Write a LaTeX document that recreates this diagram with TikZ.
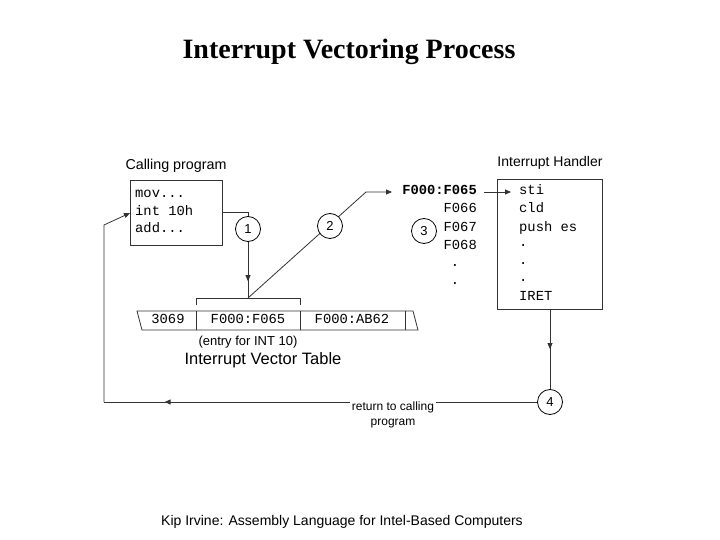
\documentclass[tikz,border=0pt]{standalone}
\usepackage{fontspec}
\setmainfont{Liberation Serif}
\newfontfamily\sansf{Liberation Sans}
\newfontfamily\monof{Liberation Mono}
\usetikzlibrary{arrows.meta,decorations.markings}
\begin{document}
\begin{tikzpicture}[x=1pt,y=-1pt,
  ln/.style={line width=0.8pt,draw=black!80},
  circ/.style={circle,draw=black,line width=0.8pt,minimum size=25pt,inner sep=0pt,font=\sansf\fontsize{13}{13}\selectfont},
  mono/.style={font=\monof\fontsize{13.8}{14}\selectfont,inner sep=0pt,text height=8pt,text depth=2pt},
  sans/.style={font=\sansf\fontsize{12}{13}\selectfont,inner sep=0pt},
  tip/.style={-{Triangle[length=6pt,width=5pt]}},
  midarrow/.style={postaction={decorate},decoration={markings,mark=at position #1 with {\arrow{Triangle[length=6pt,width=5pt]}}}}]
\useasboundingbox[fill=white] (0,0) rectangle (720,540);
\node[font=\bfseries\fontsize{28}{30}\selectfont] (title) at (349,52) {Interrupt Vectoring Process};
\node[font=\sansf\fontsize{14}{15}\selectfont] (foot) at (342,522) {Kip Irvine: Assembly Language for Intel-Based Computers};
% calling program
\node[sans,font=\sansf\fontsize{14.3}{14}\selectfont] (cplab) at (176,166) {Calling program};
\draw[ln] (130,180) rectangle (222,245);
\node[mono,anchor=west] (m1) at (135,195) {mov...};
\node[mono,anchor=west] (m2) at (135,212) {int 10h};
\node[mono,anchor=west] (m3) at (135,230) {add...};
\coordinate (c1a) at (222,212);
\coordinate (c1b) at (248,212);
\coordinate (br) at (248,298);
\draw[ln,midarrow=0.85] (c1a) -- (c1b) -- (br);
\node[circ,fill=white] (n1) at (248,229) {1};
% bracket
\draw[ln] (196,305) -- (196,298) -- (300,298) -- (300,305);
% table
\draw[ln] (137,311) -- (413,311) -- (418,330) -- (142,330) -- cycle;
\draw[ln] (196,311) -- (196,330) (300,311)--(300,330) (405,311)--(405,330);
\node[mono] (t1) at (168,320.5) {3069};
\node[mono] (t2) at (248,320.5) {F000:F065};
\node[mono] (t3) at (352,320.5) {F000:AB62};
\node[sans,font=\sansf\fontsize{13}{13}\selectfont] (e) at (248,342) {(entry for INT 10)};
\node[sans,font=\sansf\fontsize{16.5}{16}\selectfont] (ivt) at (263,360) {Interrupt Vector Table};
% arrow 2
\coordinate (k2) at (366,192);
\node[mono,anchor=east,font=\monof\bfseries\fontsize{13.8}{14}\selectfont] (f65) at (477,192) {F000:F065};
\draw[ln,tip] (br) -- (k2) -- (392,192);
\node[circ,fill=white] (n2) at (330,226) {2};
\node[mono,anchor=east] (f66) at (477,210) {F066};
\node[mono,anchor=east] (f67) at (477,228) {F067};
\node[mono,anchor=east] (f68) at (477,246) {F068};
\node[mono] (d1) at (455,263) {.};
\node[mono] (d2) at (455,281) {.};
\node[circ] (n3) at (424,231) {3};
% handler
\node[sans,font=\sansf\fontsize{14}{14}\selectfont] (ihlab) at (550,163) {Interrupt Handler};
\draw[ln] (497,179) rectangle (602,309);
\coordinate (ha) at (484,192);
\draw[ln,tip] (ha) -- (511,192);
\node[mono,anchor=west] (h1) at (519,192) {sti};
\node[mono,anchor=west] (h2) at (519,210) {cld};
\node[mono,anchor=west] (h3) at (519,228) {push es};
\node[mono,anchor=west] (h4) at (519,244) {.};
\node[mono,anchor=west] (h5) at (519,261) {.};
\node[mono,anchor=west] (h6) at (519,278) {.};
\node[mono,anchor=west] (h7) at (519,297) {IRET};
\coordinate (hb) at (550,309);
\node[circ] (n4) at (550,402) {4};
\draw[ln,midarrow=0.5] (hb) -- (n4);
\coordinate (r1) at (104,402);
\coordinate (r2) at (104,225);
\coordinate (r3) at (130,213);
\draw[ln,midarrow=0.86] (n4) -- (r1);
\draw[ln,tip] (r1) -- (r2) -- (r3);
\node[sans,fill=white,align=center,inner sep=2pt,font=\sansf\fontsize{12}{15}\selectfont] (ret) at (393,415) {return to calling\\program};
\end{tikzpicture}
\end{document}
